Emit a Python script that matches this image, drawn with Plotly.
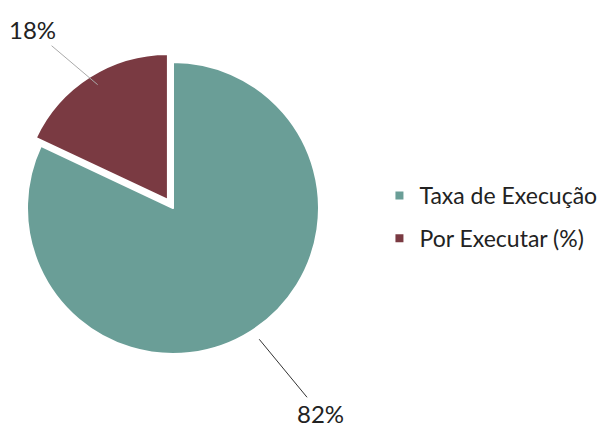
import math
import plotly.graph_objects as go

labels = ["Taxa de Execução", "Por Executar (%)"]
values = [82, 18]
colors = ["#6a9e97", "#7a3a42"]
pulls = [0, 0.065]

W, H = 616, 430
CX, CY, R = 173, 208, 146  # pie centre/radius in px
SHIFT = 8  # plotly re-centres the pulled pie; compensate
half = R * (1 + max(pulls))
domain_x = [(CX - SHIFT - half) / W, (CX - SHIFT + half) / W]
domain_y = [1 - (CY - SHIFT + half) / H, 1 - (CY - SHIFT - half) / H]

fig = go.Figure()
fig.add_trace(go.Pie(
    labels=labels, values=values, sort=False, direction="clockwise", rotation=0,
    marker=dict(colors=colors, line=dict(color="white", width=2)),
    pull=pulls, textinfo="none", showlegend=False, hoverinfo="label+percent",
    domain=dict(x=domain_x, y=domain_y),
))

# legend entries
for i, (lab, col) in enumerate(zip(labels, colors)):
    fig.add_trace(go.Scatter(
        x=[None], y=[None], mode="markers", name=lab, legendgroup=f"g{i}",
        marker=dict(symbol="square", size=8, color=col),
    ))

# leader-line labels computed from slice mid-angles
total = sum(values)
start = 0.0
offsets = [(61, 74), (-65, -55)]
line_cols = ["#333333", "#aaaaaa"]
for i, v in enumerate(values):
    mid = start + v / total * 180.0
    start += v / total * 360.0
    th = math.radians(mid)
    r = R * (1 + pulls[i])
    px = CX + r * math.sin(th)
    py = CY - r * math.cos(th)
    fig.add_annotation(
        x=px / W, y=1 - py / H, xref="paper", yref="paper",
        text=f"{round(v / total * 100)}%", showarrow=True, arrowhead=0,
        arrowwidth=1, arrowcolor=line_cols[i],
        ax=offsets[i][0], ay=offsets[i][1],
        font=dict(family="Lato", size=24, color="#222222"),
    )

fig.update_layout(
    width=W, height=H, margin=dict(l=0, r=0, t=0, b=0),
    paper_bgcolor="white", plot_bgcolor="white",
    xaxis=dict(visible=False), yaxis=dict(visible=False),
    legend=dict(x=0.603, y=0.514, xanchor="left", yanchor="middle",
                font=dict(family="Lato", size=23, color="#222222"),
                tracegroupgap=10, itemwidth=30),
)
fig.write_html("out.html")
